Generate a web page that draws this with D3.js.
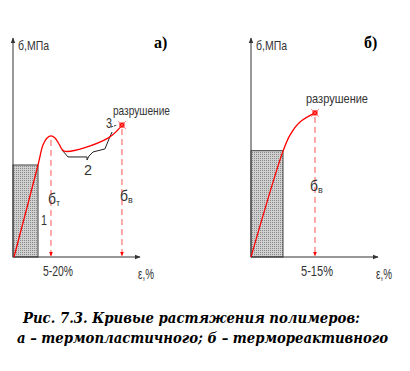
<!DOCTYPE html>
<html><head><meta charset="utf-8">
<script src="https://cdn.jsdelivr.net/npm/d3@7"></script>
<style>body{margin:0;background:#fff}</style>
</head><body>
<svg id="c" width="410" height="371"></svg>
<script>
// Panel a (thermoplastic) – strain/stress in relative units 0..100
const curveA = [[0.8,0],[19.7,42.4],[23.6,51.6],[26.8,54.8],[29.9,55.8],[33.1,54.8],[36.5,51.8],[40.2,48.8],[74.8,54.8],[85.8,60.8]];
const curveA2 = [[38.6,49.3],[43.3,46.1],[58.3,46.1],[58.3,44.7],[59.8,46.5],[63,48.4],[72.4,49.8],[75.6,54.4],[78,57.6]];
const greyA = {x:19.7, y:42.4};
const yieldA = [29.9,55.8];
const breakA = [85.8,60.8];
// Panel b (thermoset)
const curveB = [[0,0],[25.2,48.8],[30.7,56.2],[38.6,62.2],[50.4,66.4]];
const greyB = {x:25.2, y:49};
const breakB = [50.4,66.4];
const labelsA = {title:"а)", yLab:"б,МПа", xLab:"ε,%", range:"5-20%", brk:"разрушение"};
const labelsB = {title:"б)", yLab:"б,МПа", xLab:"ε,%", range:"5-15%", brk:"разрушение"};
const caption = ["Рис. 7.3. Кривые растяжения полимеров:", "а – термопластичного; б – термореактивного"];

const svg = d3.select("#c");
const defs = svg.append("defs");
const pat = defs.append("pattern").attr("id","dots").attr("width",2).attr("height",2).attr("patternUnits","userSpaceOnUse");
pat.append("rect").attr("width",2).attr("height",2).attr("fill","#d0d0d0");
pat.append("rect").attr("width",1).attr("height",1).attr("fill","#8a8a8a");
defs.append("marker").attr("id","ar").attr("viewBox","0 0 10 10").attr("refX",9).attr("refY",5)
  .attr("markerWidth",6).attr("markerHeight",6).attr("orient","auto")
  .append("path").attr("d","M0,1L10,5L0,9z").attr("fill","#333");
defs.append("marker").attr("id","arR").attr("viewBox","0 0 10 10").attr("refX",9).attr("refY",5)
  .attr("markerWidth",5).attr("markerHeight",5).attr("orient","auto")
  .append("path").attr("d","M0,1L10,5L0,9z").attr("fill","#f00");

const sans = "'Liberation Sans',Arial,sans-serif";
function txt(g, x, y, s, size, w, anchor){
  const t = g.append("text").attr("x",x).attr("y",y).text(s).attr("font-family",sans).attr("font-size",size).attr("fill","#333");
  if(w) t.attr("textLength",w).attr("lengthAdjust","spacingAndGlyphs");
  if(anchor) t.attr("text-anchor",anchor);
  return t;
}
function panel(x0, curve, grey, brk, lab, extra, brkW){
  const x = d3.scaleLinear().domain([0,100]).range([x0, x0+127]);
  const y = d3.scaleLinear().domain([0,100]).range([257, 40]);
  const g = svg.append("g");
  g.append("rect").attr("x",x(0)).attr("y",y(grey.y)).attr("width",x(grey.x)-x(0)).attr("height",y(0)-y(grey.y))
    .attr("fill","url(#dots)").attr("stroke","#444").attr("stroke-width",1);
  g.append("line").attr("x1",x(0)).attr("y1",y(0)).attr("x2",x(0)).attr("y2",y(100)-2).attr("stroke","#333").attr("marker-end","url(#ar)");
  g.append("line").attr("x1",x(0)).attr("y1",y(0)).attr("x2",x(100)).attr("y2",y(0)).attr("stroke","#333").attr("marker-end","url(#ar)");
  const line = d3.line().x(d=>x(d[0])).y(d=>y(d[1])).curve(d3.curveCatmullRom);
  if(extra) g.append("path").attr("d",d3.line().x(d=>x(d[0])).y(d=>y(d[1]))(extra)).attr("fill","none").attr("stroke","#222").attr("stroke-width",1);
  g.append("path").attr("d",line(curve)).attr("fill","none").attr("stroke","#f00").attr("stroke-width",1.3);
  g.append("rect").attr("x",x(brk[0])-2.5).attr("y",y(brk[1])-2.5).attr("width",5).attr("height",5).attr("fill","#f00");
  g.append("path").attr("d",`M${x(brk[0])-4},${y(brk[1])-4}L${x(brk[0])+4},${y(brk[1])+4}M${x(brk[0])+4},${y(brk[1])-4}L${x(brk[0])-4},${y(brk[1])+4}`).attr("stroke","#f66").attr("stroke-width",0.8);
  g.append("line").attr("x1",x(brk[0])).attr("y1",y(brk[1])+4).attr("x2",x(brk[0])).attr("y2",y(0)-1)
    .attr("stroke","#f55").attr("stroke-dasharray","6,4").attr("marker-end","url(#arR)");
  txt(g, x(0)+5, y(100)+10, lab.yLab, 13, 31);
  txt(g, x(brk[0])-9, y(brk[1])-10, lab.brk, 13, brkW);
  txt(g, x(100)-2, y(0)+22, lab.xLab, 15, 16);
  return {x,y,g};
}
const A = panel(13, curveA, greyA, breakA, labelsA, curveA2, 57);
const B = panel(251, curveB, greyB, breakB, labelsB, null, 62);

A.g.append("line").attr("x1",A.x(yieldA[0])).attr("y1",A.y(yieldA[1])+4).attr("x2",A.x(yieldA[0])).attr("y2",A.y(0)-1)
  .attr("stroke","#f55").attr("stroke-dasharray","6,4").attr("marker-end","url(#arR)");
txt(A.g, A.x(yieldA[0])+7, 276, labelsA.range, 15, 30, "middle");
txt(B.g, B.x(breakB[0])+2, 276, labelsB.range, 15, 32, "middle");

function sub(g, xx, yy, main, s){
  const t = g.append("text").attr("x",xx).attr("y",yy).attr("font-family",sans).attr("font-size",15).attr("fill","#333");
  t.append("tspan").text(main).attr("textLength",8).attr("lengthAdjust","spacingAndGlyphs");
  t.append("tspan").attr("font-size",9).attr("dy",2).text(s);
}
sub(A.g, 48, 204, "б", "т");
sub(A.g, 120, 201, "б", "в");
sub(B.g, 310, 191, "б", "в");
txt(A.g, 41, 225, "1", 15, 6);
txt(A.g, 84, 175, "2", 15, 8);
txt(A.g, 106, 128, "3", 14, 6);
A.g.append("line").attr("x1",111).attr("y1",127).attr("x2",117).attr("y2",125).attr("stroke","#333").attr("stroke-dasharray","2,1");

svg.append("text").attr("x",154).attr("y",48).text(labelsA.title).attr("font-family","'Liberation Serif',serif").attr("font-weight","bold").attr("font-size",16);
svg.append("text").attr("x",364).attr("y",48).text(labelsB.title).attr("font-family","'Liberation Serif',serif").attr("font-weight","bold").attr("font-size",16);

const capX = [23, 17], capW = [337, 371];
svg.selectAll("text.cap").data(caption).join("text").attr("class","cap")
  .attr("x",(d,i)=>capX[i]).attr("y",(d,i)=>323+i*20)
  .attr("textLength",(d,i)=>capW[i]).attr("lengthAdjust","spacingAndGlyphs")
  .attr("font-family","'DejaVu Serif',serif").attr("font-style","italic").attr("font-weight","bold").attr("font-size",14)
  .text(d=>d);
</script>
</body></html>
